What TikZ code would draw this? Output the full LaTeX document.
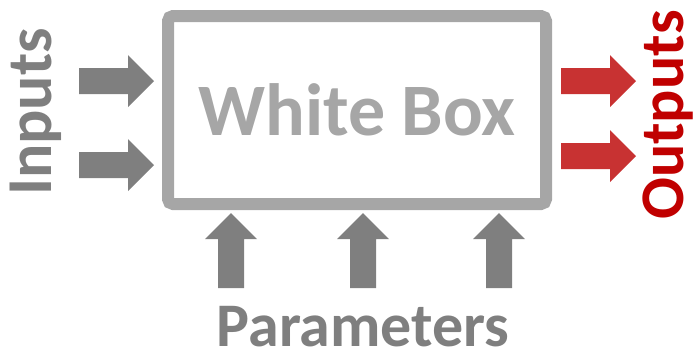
\documentclass[tikz,border=0pt]{standalone}
\usepackage{fontspec}
\setmainfont{Carlito}
\definecolor{arrowgray}{RGB}{127,127,127}
\definecolor{boxgray}{RGB}{166,166,166}
\definecolor{outred}{RGB}{192,0,0}
\definecolor{arrowred}{RGB}{200,50,50}
\tikzset{
  blockarrow/.pic={\fill[pic actions] (0,0) -- (-26,-26) -- (-26,-13) -- (-75,-13) -- (-75,13) -- (-26,13) -- (-26,26) -- cycle;},
  lbl/.style={inner sep=0pt, anchor=base, font=\bfseries},
}
\begin{document}
\begin{tikzpicture}[x=1pt,y=-1pt]
\useasboundingbox (0,0) rectangle (697,360);
% box
\draw[boxgray, line width=12pt, rounded corners=5pt] (168,16) rectangle (546,204);
\node[lbl, text=boxgray, font=\fontsize{74}{80}\selectfont\bfseries] (wb) at (357,135) {White Box};
% inputs
\pic[fill=arrowgray] at (154,81) {blockarrow};
\pic[fill=arrowgray] at (154,165) {blockarrow};
\node[lbl, text=arrowgray, rotate=90, font=\fontsize{64}{70}\selectfont\bfseries] (in) at (52,112) {Inputs};
% outputs
\pic[fill=arrowred] at (636,81) {blockarrow};
\pic[fill=arrowred] at (636,156) {blockarrow};
\node[lbl, text=outred, rotate=90, font=\fontsize{62}{70}\selectfont\bfseries] (out) at (683,115) {Outputs};
% parameters
\pic[fill=arrowgray, rotate=90] at (231,213) {blockarrow};
\pic[fill=arrowgray, rotate=90] at (363,213) {blockarrow};
\pic[fill=arrowgray, rotate=90] at (499,213) {blockarrow};
\node[lbl, text=arrowgray, font=\fontsize{62}{66}\selectfont\bfseries] (par) at (363,346) {Parameters};
\end{tikzpicture}
\end{document}
